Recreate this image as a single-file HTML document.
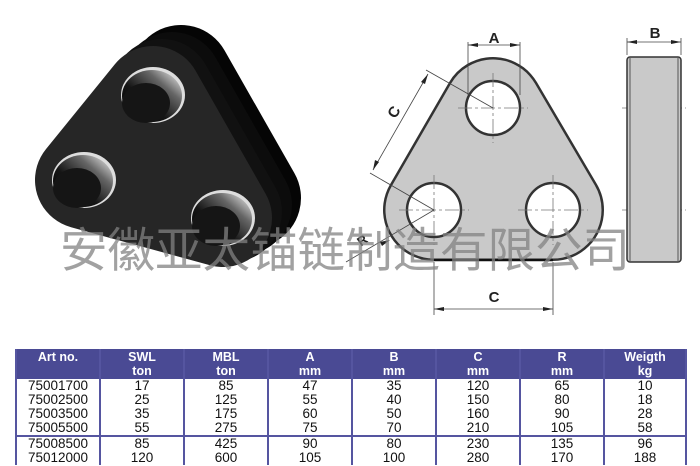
<!DOCTYPE html>
<html><head><meta charset="utf-8"><style>
html,body{margin:0;padding:0;background:#fff;}
body{width:700px;height:466px;position:relative;overflow:hidden;font-family:"Liberation Sans",sans-serif;}
svg{position:absolute;left:0;top:0;}
table{position:absolute;left:15px;top:349px;border-collapse:collapse;table-layout:fixed;width:670px;font-size:13.5px;}
td,th{text-align:center;padding:0;border-left:2px solid #5555a0;border-right:2px solid #5555a0;overflow:hidden;white-space:nowrap;}
th{background:#4a4a94;color:#fff;font-size:12.5px;font-weight:bold;line-height:14px;height:30px;}
td{line-height:14px;height:14px;color:#111;}
tr.sep td{border-top:2px solid #5555a0;}
.wm{position:absolute;left:60px;top:222px;font-family:"Liberation Sans","Noto Sans CJK SC",sans-serif;font-size:47.5px;color:rgba(130,130,130,0.75);white-space:nowrap;line-height:60px;}
</style></head><body>
<svg width="700" height="466" viewBox="0 0 700 466">
<defs>
<linearGradient id="hole" x1="1" y1="0" x2="0" y2="1"><stop offset="0" stop-color="#fff"/><stop offset="0.3" stop-color="#666"/><stop offset="0.6" stop-color="#151515"/><stop offset="1" stop-color="#000"/></linearGradient>
</defs>
<!-- 3D object extrusion -->
<g stroke-linejoin="round">
<polygon points="181,75 112,160 251,198" fill="#050505" stroke="#050505" stroke-width="100"/>
<polygon points="172,82 103,167 242,205" fill="#0c0c0c" stroke="#0c0c0c" stroke-width="100"/>
<polygon points="162,89 93,174 232,212" fill="#111" stroke="#111" stroke-width="100"/>
<polygon points="153,95 84,180 223,218" fill="#262626" stroke="#262626" stroke-width="98"/>
</g>
<g fill="#ddd">
<ellipse cx="153" cy="95" rx="32" ry="28"/>
<ellipse cx="84" cy="180" rx="32" ry="28"/>
<ellipse cx="223" cy="218" rx="32" ry="28"/>
</g>
<g fill="url(#hole)">
<ellipse cx="152" cy="96" rx="30" ry="26"/>
<ellipse cx="83" cy="181" rx="30" ry="26"/>
<ellipse cx="222" cy="219" rx="30" ry="26"/>
</g>
<g fill="#151515">
<ellipse cx="146" cy="103" rx="24" ry="20"/>
<ellipse cx="77" cy="188" rx="24" ry="20"/>
<ellipse cx="216" cy="226" rx="24" ry="20"/>
</g>
<!-- plate front view -->
<g stroke-linejoin="round">
<polygon points="493,108 434,210 553,210" fill="#333" stroke="#333" stroke-width="102"/>
<polygon points="493,108 434,210 553,210" fill="#c9c9c9" stroke="#c9c9c9" stroke-width="97"/>
</g>
<line x1="434" y1="260" x2="553" y2="260" stroke="#111" stroke-width="2.5"/>
<g stroke="#333" stroke-width="2.5" fill="#fff">
<circle cx="493" cy="108" r="27"/><circle cx="434" cy="210" r="27"/><circle cx="553" cy="210" r="27"/>
</g>
<g stroke="#777" stroke-width="0.8" fill="none" stroke-dasharray="14,3,3,3">
<line x1="458" y1="108" x2="528" y2="108"/><line x1="493" y1="73" x2="493" y2="143"/>
<line x1="399" y1="210" x2="469" y2="210"/><line x1="434" y1="175" x2="434" y2="245"/>
<line x1="518" y1="210" x2="588" y2="210"/><line x1="553" y1="175" x2="553" y2="245"/>
<line x1="622" y1="108" x2="686" y2="108"/><line x1="622" y1="210" x2="686" y2="210"/>
</g>
<!-- side view -->
<rect x="627" y="57" width="54" height="205" rx="3" fill="#c9c9c9" stroke="#333" stroke-width="1.5"/>
<line x1="630" y1="58" x2="630" y2="261" stroke="#555" stroke-width="1"/>
<line x1="678" y1="58" x2="678" y2="261" stroke="#555" stroke-width="1"/>
<!-- dims -->
<g stroke="#444" stroke-width="0.8" fill="none">
<line x1="468" y1="42" x2="468" y2="95"/><line x1="520" y1="42" x2="520" y2="95"/>
<line x1="468" y1="45" x2="520" y2="45"/>
<line x1="627" y1="38" x2="627" y2="55"/><line x1="681" y1="38" x2="681" y2="55"/>
<line x1="627" y1="42" x2="681" y2="42"/>
<line x1="434" y1="262" x2="434" y2="315"/><line x1="553" y1="262" x2="553" y2="315"/>
<line x1="434" y1="309" x2="553" y2="309"/>
<line x1="493" y1="108" x2="426" y2="70"/><line x1="434" y1="210" x2="370" y2="173"/>
<line x1="428" y1="74" x2="373" y2="170"/>
<line x1="434" y1="210" x2="346" y2="262"/>
</g>
<g fill="#222">
<polygon points="468,45 478,43 478,47"/><polygon points="520,45 510,43 510,47"/>
<polygon points="627,42 637,40 637,44"/><polygon points="681,42 671,40 671,44"/>
<polygon points="434,309 444,307 444,311"/><polygon points="553,309 543,307 543,311"/>
<polygon points="428,74 421,82 425,84"/><polygon points="373,170 375,160 379,162"/>
<polygon points="390,240 380,242 382,246"/>
</g>
<g font-family="Liberation Sans" font-weight="bold" font-size="15" fill="#222" text-anchor="middle">
<text x="494" y="43">A</text><text x="655" y="38">B</text><text x="494" y="302">C</text>
<text transform="translate(394,112) rotate(-60)" x="0" y="5">C</text>
<text transform="translate(362,240) rotate(-35)" x="0" y="5" font-size="13">R</text>
</g>
</svg>
<div class="wm">安徽亚太锚链制造有限公司</div>
<table>
<colgroup><col style="width:84px"><col style="width:84px"><col style="width:84px"><col style="width:84px"><col style="width:84px"><col style="width:84px"><col style="width:84px"><col style="width:82px"></colgroup>
<tr><th>Art no.<br>&nbsp;</th><th>SWL<br>ton</th><th>MBL<br>ton</th><th>A<br>mm</th><th>B<br>mm</th><th>C<br>mm</th><th>R<br>mm</th><th>Weigth<br>kg</th></tr>
<tr><td>75001700</td><td>17</td><td>85</td><td>47</td><td>35</td><td>120</td><td>65</td><td>10</td></tr>
<tr><td>75002500</td><td>25</td><td>125</td><td>55</td><td>40</td><td>150</td><td>80</td><td>18</td></tr>
<tr><td>75003500</td><td>35</td><td>175</td><td>60</td><td>50</td><td>160</td><td>90</td><td>28</td></tr>
<tr><td>75005500</td><td>55</td><td>275</td><td>75</td><td>70</td><td>210</td><td>105</td><td>58</td></tr>
<tr class="sep"><td>75008500</td><td>85</td><td>425</td><td>90</td><td>80</td><td>230</td><td>135</td><td>96</td></tr>
<tr><td>75012000</td><td>120</td><td>600</td><td>105</td><td>100</td><td>280</td><td>170</td><td>188</td></tr>
</table>
</body></html>
